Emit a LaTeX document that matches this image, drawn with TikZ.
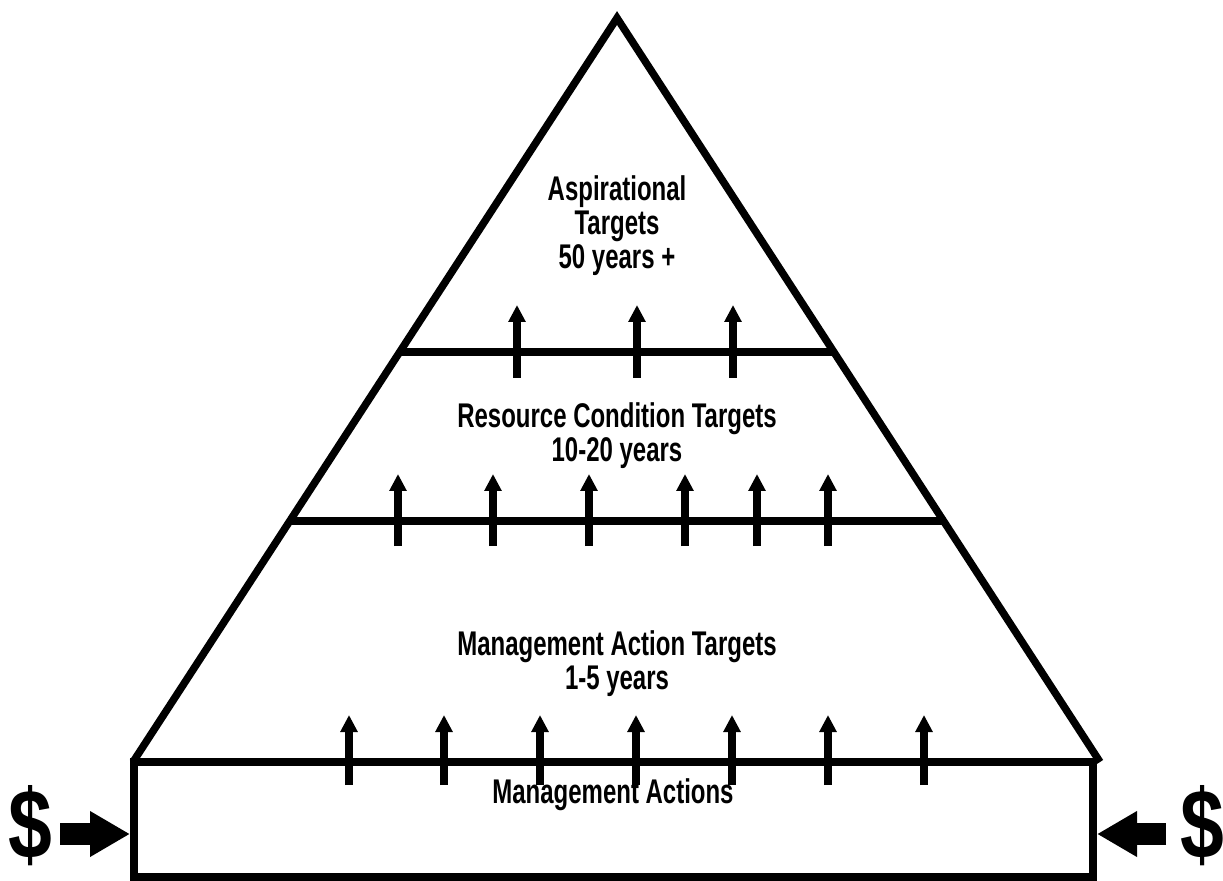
\documentclass[tikz,border=0pt]{standalone}
\usepackage{fontspec}
\usetikzlibrary{arrows.meta, positioning, calc}

\newfontfamily\labelfont[FakeStretch=0.70]{Liberation Sans}
\newfontfamily\cashfont[FakeStretch=0.80]{Liberation Sans}

\begin{document}
\begin{tikzpicture}[x=0.02cm, y=-0.02cm, line width=0.15cm,
  tier/.style={font=\labelfont\bfseries\fontsize{19.5pt}{19.3pt}\selectfont, align=center, inner sep=0pt},
  cash/.style={font=\cashfont\bfseries\fontsize{56pt}{58pt}\selectfont, inner sep=0pt},
  lift/.style={-{Triangle[length=0.34cm, width=0.33cm]}, line width=0.145cm},
  feed/.style={-{Triangle[length=0.8cm, width=0.86cm]}, line width=0.44cm}]
\useasboundingbox (0,0) rectangle (1223,881);

% pyramid corners
\coordinate (top) at (617,18);
\coordinate (bl) at (133,762);
\coordinate (br) at (1100,762);

% labels first, the arrows sit over them
\node[tier] (aspire) at (617,226) {Aspirational\\Targets\\50 years +};
\node[tier] (resource) at (617,436) {Resource Condition Targets\\10-20 years};
\node[tier] (mgmt) at (617,664) {Management Action Targets\\1-5 years};
\node[tier] (actions) at (613,795) {Management Actions};

% triangle and the two tier lines
\draw[line join=miter] (bl) -- (top) -- (br);
\draw ($(top)!0.4489!(bl)$) -- ($(top)!0.4489!(br)$);
\draw ($(top)!0.6761!(bl)$) -- ($(top)!0.6761!(br)$);

% base box
\draw (134,762) rectangle (1093,877);
\coordinate (inl) at (130,834);
\coordinate (inr) at (1097,834);

% upward arrows
\foreach \x in {517,637,733}
  \draw[lift] (\x,378) -- (\x,305);
\foreach \x in {398,493,589,685,757,828}
  \draw[lift] (\x,546) -- (\x,474);
\foreach \x in {349,444,540,636,732,828,924}
  \draw[lift] (\x,785) -- (\x,715);

% money in from both sides
\node[cash] (lcash) at (30,826) {\$};
\node[cash] (rcash) at (1202,826) {\$};
\draw[feed] (60,834) -- (inl);
\draw[feed] (1166,834) -- (inr);
\end{tikzpicture}
\end{document}
